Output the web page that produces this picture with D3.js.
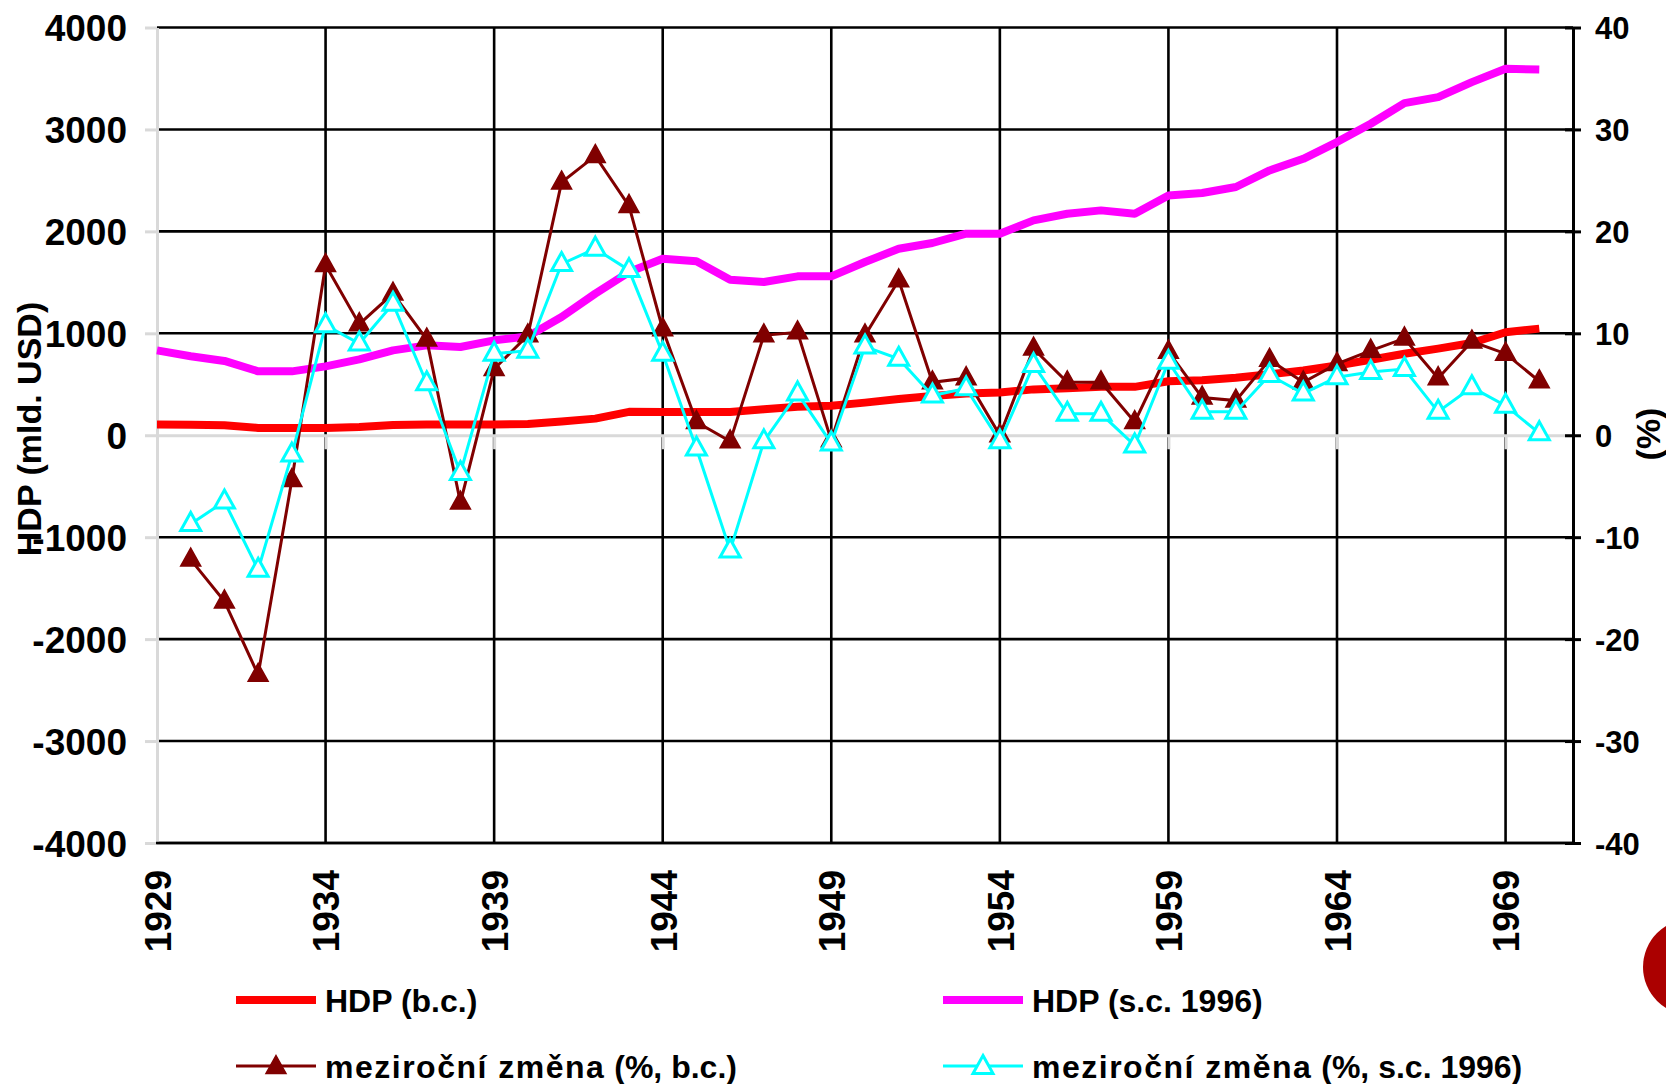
<!DOCTYPE html>
<html>
<head>
<meta charset="utf-8">
<script src="https://cdn.jsdelivr.net/npm/d3@7"></script>
<style>
  html, body { margin: 0; padding: 0; background: #fff; }
  svg { display: block; }
  text { font-family: "Liberation Sans", Arial, sans-serif; font-weight: bold; fill: #000; }
</style>
</head>
<body>
<svg id="chart" width="1666" height="1084"></svg>
<script>
// ---------- data ----------
const years = d3.range(1929, 1971);
const hdpBc = [105, 103, 98, 72, 72, 72, 80, 100, 105, 105, 105, 110, 135, 163, 230, 229, 229, 229, 255, 280,
  290, 320, 355, 385, 410, 420, 450, 460, 475, 475, 530, 540, 565, 598, 635, 685, 740, 800, 850, 905, 1010, 1046];
const hdpSc = [833, 775, 729, 627, 627, 676, 745, 833, 882, 866, 931, 970, 1160, 1389, 1601, 1732, 1706, 1526, 1503, 1559,
  1559, 1699, 1830, 1886, 1977, 1977, 2108, 2173, 2206, 2173, 2353, 2376, 2435, 2598, 2712, 2876, 3056, 3258, 3317, 3464, 3595, 3588];
const chgBc = [null, -12.2, -16.3, -23.5, -4.4, 16.7, 10.9, 13.9, 9.4, -6.6, 6.5, 9.8, 24.8, 27.4, 22.5, 10.4, 1.3, -0.6, 9.8, 10.1,
  -0.5, 9.8, 15.2, 5.2, 5.6, 0.0, 8.5, 5.2, 5.2, 1.3, 8.2, 3.7, 3.4, 7.4, 5.2, 7.0, 8.3, 9.5, 5.6, 9.2, 8.0, 5.3];
const chgSc = [null, -8.7, -6.5, -13.2, -1.9, 10.8, 9.0, 12.9, 5.1, -3.7, 8.0, 8.3, 16.8, 18.3, 16.2, 8.0, -1.3, -11.3, -0.6, 4.1,
  -0.8, 8.7, 7.5, 3.9, 4.6, -0.6, 6.9, 2.1, 2.1, -1.0, 7.2, 2.3, 2.3, 5.9, 4.1, 5.7, 6.2, 6.5, 2.3, 4.7, 2.9, 0.2];
const leftTicks = [-4000, -3000, -2000, -1000, 0, 1000, 2000, 3000, 4000];
const rightTicks = [-40, -30, -20, -10, 0, 10, 20, 30, 40];
const yearTicks = [1929, 1934, 1939, 1944, 1949, 1954, 1959, 1964, 1969];
const legendLabels = ["HDP (b.c.)", "HDP (s.c. 1996)", "meziroční změna", "meziroční změna"];
const legendSuffix = ["", "", " (%, b.c.)", " (%, s.c. 1996)"];
const leftTitle = "HDP (mld. USD)";
const rightTitle = "(%)";

// ---------- layout ----------
const X0 = 157, X1 = 1573, YT = 27.5, YB = 843;
const svg = d3.select("#chart");
svg.append("rect").attr("width", 1666).attr("height", 1084).attr("fill", "#fff");

const x = d3.scaleLinear().domain([1929, 1971]).range([X0, X1]);
const yL = d3.scaleLinear().domain([-4000, 4000]).range([YB, YT]);
const yR = d3.scaleLinear().domain([-40, 40]).range([YB, YT]);
const plain = d => String(d);

// gridlines
const grid = svg.append("g");
grid.selectAll("line.h").data(leftTicks.filter(d => d !== 0)).join("line")
  .attr("x1", X0).attr("x2", X1).attr("y1", d => yL(d)).attr("y2", d => yL(d))
  .attr("stroke", "#000").attr("stroke-width", 2.6);
grid.selectAll("line.v").data(yearTicks.filter(d => d !== 1929)).join("line")
  .attr("x1", d => x(d)).attr("x2", d => x(d)).attr("y1", YT).attr("y2", YB)
  .attr("stroke", "#000").attr("stroke-width", 2.6);

// left axis (light gray)
const axL = svg.append("g").attr("transform", `translate(${X0},0)`)
  .call(d3.axisLeft(yL).tickValues(leftTicks).tickFormat(plain).tickSize(12).tickSizeOuter(0).tickPadding(18));
axL.select(".domain").attr("stroke", "#d9d9d9").attr("stroke-width", 3);
axL.selectAll(".tick line").attr("stroke", "#d9d9d9").attr("stroke-width", 3);
axL.selectAll(".tick text").attr("font-size", 37).attr("dy", "0.36em")
  .style("font-family", "'Liberation Sans', Arial, sans-serif").style("font-weight", "bold");

// category axis at zero (light gray)
const axX = svg.append("g").attr("transform", `translate(0,${yL(0)})`)
  .call(d3.axisBottom(x).tickValues(yearTicks).tickSize(14).tickSizeOuter(0).tickFormat(""));
axX.select(".domain").attr("stroke", "#d9d9d9").attr("stroke-width", 3.2);
axX.selectAll(".tick line").attr("stroke", "#d9d9d9").attr("stroke-width", 3);

// year labels at bottom
const axXL = svg.append("g").attr("transform", `translate(0,${YB})`)
  .call(d3.axisBottom(x).tickValues(yearTicks).tickSize(0).tickFormat(plain));
axXL.select(".domain").remove();
axXL.selectAll(".tick text")
  .attr("transform", "rotate(-90)").attr("x", -27).attr("y", 0).attr("dy", "0.36em")
  .attr("text-anchor", "end").attr("font-size", 37)
  .style("font-family", "'Liberation Sans', Arial, sans-serif").style("font-weight", "bold");

// bottom border line
svg.append("line").attr("x1", X0 - 1).attr("x2", X1).attr("y1", YB).attr("y2", YB)
  .attr("stroke", "#000").attr("stroke-width", 2.6);

// right axis (black)
const axR = svg.append("g").attr("transform", `translate(${X1},0)`)
  .call(d3.axisRight(yR).tickValues(rightTicks).tickFormat(plain).tickSize(8).tickSizeOuter(0).tickPadding(14));
axR.select(".domain").attr("stroke", "#000").attr("stroke-width", 3);
axR.selectAll(".tick line").attr("x1", -8).attr("stroke", "#000").attr("stroke-width", 3);
axR.selectAll(".tick text").attr("font-size", 31).attr("dy", "0.36em")
  .style("font-family", "'Liberation Sans', Arial, sans-serif").style("font-weight", "bold");

// axis titles
svg.append("text").attr("transform", "translate(29,429) rotate(-90)")
  .attr("text-anchor", "middle").attr("dy", "0.36em").attr("font-size", 34).text(leftTitle);
svg.append("text").attr("transform", "translate(1648,434) rotate(-90)")
  .attr("text-anchor", "middle").attr("dy", "0.36em").attr("font-size", 34).text(rightTitle);

// ---------- series ----------
const lineL = d3.line().defined(d => d[1] != null).x(d => x(d[0])).y(d => yL(d[1]));
const lineR = d3.line().defined(d => d[1] != null).x(d => x(d[0])).y(d => yR(d[1]));
const tri = "M0,-11.5L10,6.5L-10,6.5Z";

svg.append("path").datum(years.map((y, i) => [y, hdpBc[i]]))
  .attr("d", lineL).attr("fill", "none").attr("stroke", "#ff0000")
  .attr("stroke-width", 8).attr("stroke-linejoin", "round");
svg.append("path").datum(years.map((y, i) => [y, hdpSc[i]]))
  .attr("d", lineL).attr("fill", "none").attr("stroke", "#ff00ff")
  .attr("stroke-width", 8).attr("stroke-linejoin", "round");

const bcData = years.map((y, i) => [y, chgBc[i]]);
svg.append("path").datum(bcData).attr("d", lineR).attr("fill", "none")
  .attr("stroke", "#800000").attr("stroke-width", 3);
svg.append("g").selectAll("path").data(bcData.filter(d => d[1] != null)).join("path")
  .attr("d", tri).attr("transform", d => `translate(${x(d[0])},${yR(d[1])})`)
  .attr("fill", "#800000").attr("stroke", "#800000").attr("stroke-width", 1.5);

const scData = years.map((y, i) => [y, chgSc[i]]);
svg.append("path").datum(scData).attr("d", lineR).attr("fill", "none")
  .attr("stroke", "#00ffff").attr("stroke-width", 3);
svg.append("g").selectAll("path").data(scData.filter(d => d[1] != null)).join("path")
  .attr("d", tri).attr("transform", d => `translate(${x(d[0])},${yR(d[1])})`)
  .attr("fill", "#fff").attr("stroke", "#00ffff").attr("stroke-width", 3);

// ---------- legend ----------
const legendItems = [
  {lx: 236, ly: 1000, color: "#ff0000", w: 8, marker: null},
  {lx: 943, ly: 1000, color: "#ff00ff", w: 8, marker: null},
  {lx: 236, ly: 1066, color: "#800000", w: 3, marker: "fill"},
  {lx: 943, ly: 1066, color: "#00ffff", w: 3, marker: "hollow"}
];
const lg = svg.append("g");
legendItems.forEach((it, i) => {
  lg.append("line").attr("x1", it.lx).attr("x2", it.lx + 80).attr("y1", it.ly).attr("y2", it.ly)
    .attr("stroke", it.color).attr("stroke-width", it.w);
  if (it.marker) {
    lg.append("path").attr("d", tri).attr("transform", `translate(${it.lx + 40},${it.ly + 1})`)
      .attr("fill", it.marker === "fill" ? it.color : "#fff")
      .attr("stroke", it.color).attr("stroke-width", it.marker === "fill" ? 1.5 : 3);
  }
  const t = lg.append("text").attr("x", it.lx + 89).attr("y", it.ly + 12).attr("font-size", 32);
  t.append("tspan").attr("letter-spacing", i >= 2 ? 1.5 : 0).text(legendLabels[i]);
  if (legendSuffix[i]) t.append("tspan").text(legendSuffix[i]);
});

// decorative circle at right edge
svg.append("circle").attr("cx", 1691).attr("cy", 967).attr("r", 48).attr("fill", "#ab0000");
</script>
</body>
</html>
